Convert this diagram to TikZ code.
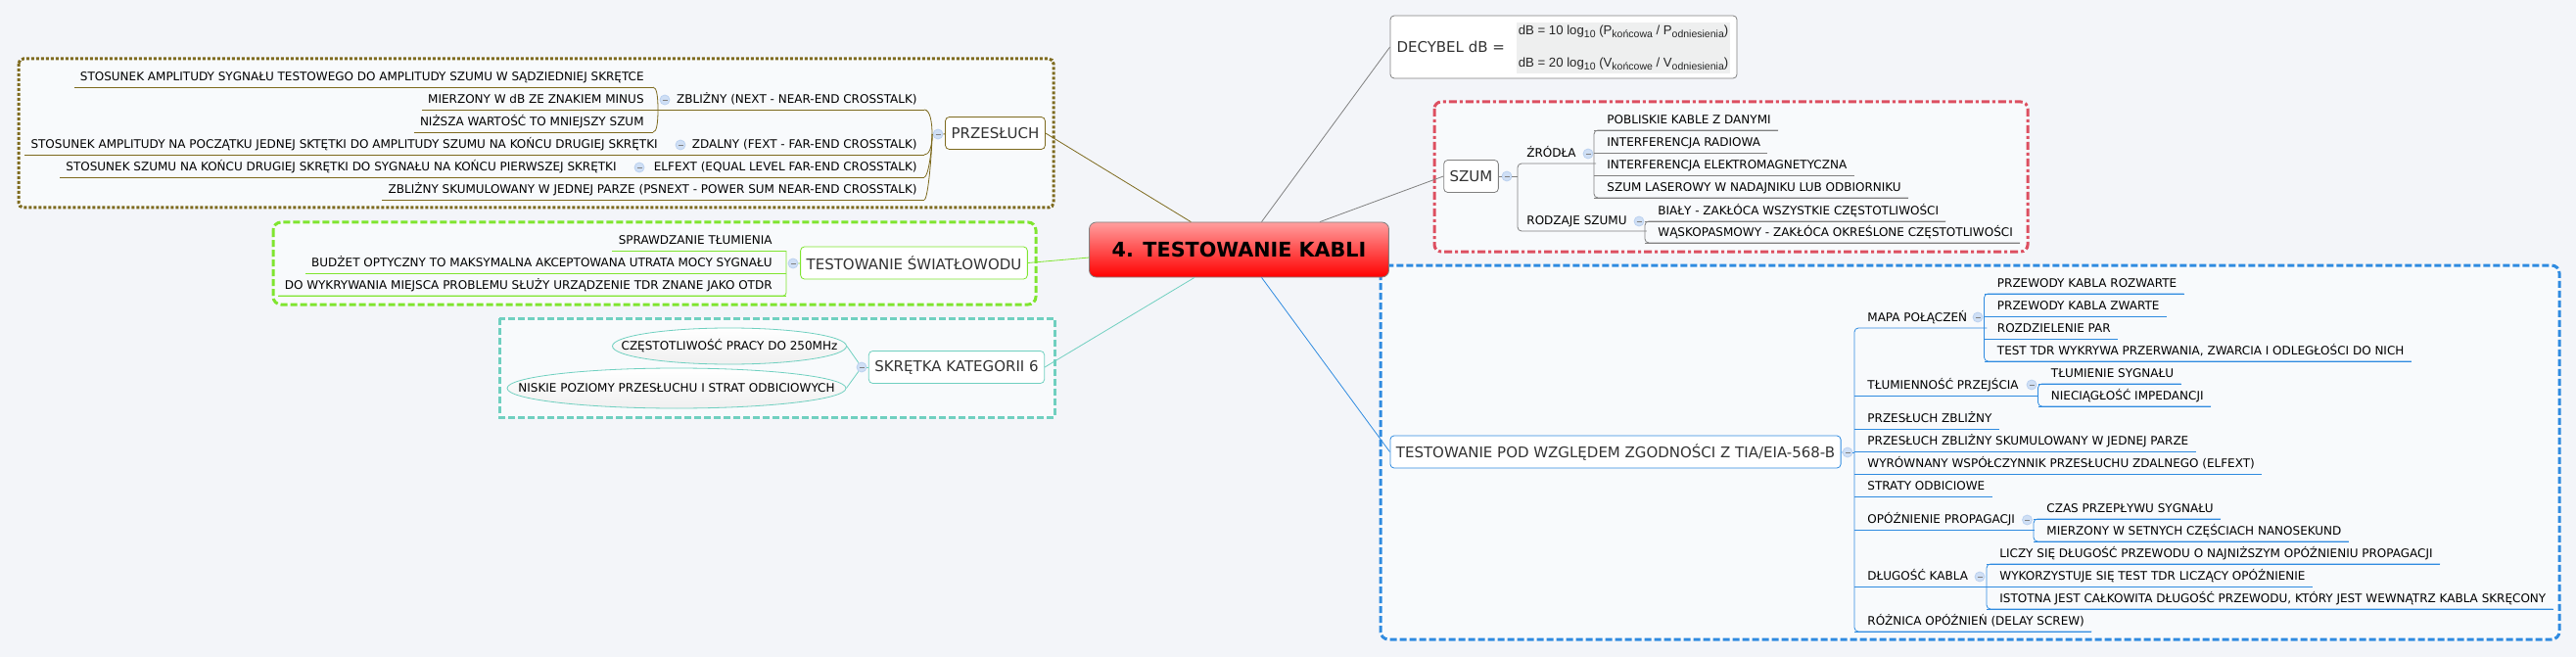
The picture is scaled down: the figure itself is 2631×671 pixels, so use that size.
\documentclass[tikz,border=0pt]{standalone}
\usepackage{fontspec}
\setmainfont{DejaVu Sans}
\newfontfamily\tabfont{Liberation Sans}
\usetikzlibrary{positioning,shapes.geometric}
\definecolor{pagebg}{HTML}{F3F5F9}
\definecolor{framebg}{HTML}{F8FAFC}
\definecolor{brownln}{HTML}{7D6A1E}
\definecolor{greenln}{HTML}{7FE52F}
\definecolor{cyanln}{HTML}{70D0C0}
\definecolor{redln}{HTML}{DD4F60}
\definecolor{blueln}{HTML}{2F8BE0}
\definecolor{grayln}{HTML}{808080}
\definecolor{tabgray}{HTML}{EEEFEF}
\definecolor{expandfill}{HTML}{CFDFF5}
\definecolor{expandln}{HTML}{BCD2F0}
\newcommand{\lowtxt}[1]{\raisebox{-3.5pt}{\fontsize{10.5}{12}\selectfont #1}}

\begin{document}
\begin{tikzpicture}[
    x=1pt,y=-1pt,
    line width=.8pt,
    framebox/.style={fill=framebg,line width=3pt},
    topic/.style={
        draw,
        rounded corners=4pt,
        fill=white,
        minimum height=33pt,
        inner xsep=6pt,
        text=black!80,
        font=\fontsize{15}{18}\selectfont},
    leafbase/.style={
        inner xsep=0pt,inner ysep=3pt,
        text height=9pt,text depth=3pt,
        font=\fontsize{12}{14}\selectfont},
    leafr/.style={
        leafbase,
        anchor=south west,
        execute at begin node=\hspace*{13pt},
        execute at end node=\hspace*{#1}},
    leafr/.default=7pt,
    leafs/.style={
        leafbase,
        anchor=south west,
        execute at begin node=\hspace*{9pt},
        execute at end node=\hspace*{20pt}},
    leafl/.style={
        leafbase,
        anchor=south east,
        execute at begin node=\hspace*{6pt},
        execute at end node=\hspace*{#1}},
    leafl/.default=9pt,
    expander/.style={
        circle,
        draw=expandln,
        fill=expandfill,
        minimum size=10pt,
        inner sep=0pt,
        path picture={\draw[grayln,line width=.6pt] ([xshift=2.5pt]path picture bounding box.west) -- ([xshift=-2.5pt]path picture bounding box.east);}},
    ellipsenode/.style={
        ellipse,
        draw=cyanln,
        top color=white,
        bottom color=black!6,
        inner sep=0pt,
        font=\fontsize{12}{14}\selectfont}
]

\fill[pagebg] (0,0) rectangle (2631,671);
\useasboundingbox (0,0) rectangle (2631,671);

% frames
\draw[framebox,draw=brownln,rounded corners=5pt,dash pattern=on 3pt off 2pt] (19,60) rectangle (1076,212);
\draw[framebox,draw=greenln,rounded corners=8pt,dash pattern=on 7pt off 3pt] (279,227) rectangle (1058,311);
\draw[framebox,draw=cyanln,dash pattern=on 7pt off 3pt] (510,325) rectangle (1077,426);
\draw[framebox,draw=redln,rounded corners=7pt,dash pattern=on 8pt off 3pt on 3pt off 3pt] (1465,104) rectangle (2071,257);
\draw[framebox,draw=blueln,rounded corners=8pt,dash pattern=on 7pt off 3pt] (1410,271) rectangle (2614,653);

% root and main topics
\node[draw=grayln,rounded corners=7pt,top color=red!38,bottom color=red,minimum width=306pt,minimum height=56pt,font=\fontsize{20.7}{24}\selectfont\bfseries] (root) at (1265.5,255) {4. TESTOWANIE KABLI};
\node[topic,draw=brownln] (przesluch) at (1016.5,136) {PRZESŁUCH};
\node[topic,draw=greenln] (swiatlowod) at (933.5,268.5) {TESTOWANIE ŚWIATŁOWODU};
\node[topic,draw=cyanln] (skretka) at (977,375) {SKRĘTKA KATEGORII 6};
\node[topic,draw=grayln] (szum) at (1502.5,180) {SZUM};
\node[topic,draw=blueln] (tia) at (1650,461.5) {TESTOWANIE POD WZGLĘDEM ZGODNOŚCI Z TIA/EIA-568-B};
\node[topic,draw=grayln,minimum width=354pt,minimum height=64pt] (decybel) at (1597,48) {};
\node[right=6.5pt of decybel.west,inner sep=0pt,text=black!80,font=\fontsize{15}{18}\selectfont] (decyblabel) {DECYBEL dB =};
\node[fill=tabgray,inner xsep=2pt,inner ysep=0pt,minimum height=52pt,align=left,font=\tabfont\fontsize{13.2}{33}\selectfont,text=black!85] (decybtab) at (1658,49)
    {dB = 10 log\lowtxt{10} (P\lowtxt{końcowa} / P\lowtxt{odniesienia})\\dB = 20 log\lowtxt{10} (V\lowtxt{końcowe} / V\lowtxt{odniesienia})};

\draw[brownln] (przesluch.east) -- (root.150);
\draw[greenln] (swiatlowod.east) -- (root.183);
\draw[cyanln] (skretka.east) -- (root.212);
\draw[grayln] (decybel.west) -- (root.51);
\draw[grayln] (szum.west) -- (root.19);
\draw[blueln] (tia.west) -- (root.-51);

% PRZESLUCH
\foreach \nm/\xx/\yy/\txt in {
    sygnal/667/89/STOSUNEK AMPLITUDY SYGNAŁU TESTOWEGO DO AMPLITUDY SZUMU W SĄDZIEDNIEJ SKRĘTCE,
    minus/667/112/MIERZONY W dB ZE ZNAKIEM MINUS,
    nizsza/667/135/NIŻSZA WARTOŚĆ TO MNIEJSZY SZUM}
{
  \node[leafl] (\nm) at (\xx,\yy) {\txt};
  \draw[brownln] (\nm.south west) -- (\nm.south east);
}
\node[leafl=12pt] (poczatek) at (684,158) {STOSUNEK AMPLITUDY NA POCZĄTKU JEDNEJ SKTĘTKI DO AMPLITUDY SZUMU NA KOŃCU DRUGIEJ SKRĘTKI};
\node[leafl=12pt] (koniec) at (642,181) {STOSUNEK SZUMU NA KOŃCU DRUGIEJ SKRĘTKI DO SYGNAŁU NA KOŃCU PIERWSZEJ SKRĘTKI};
\foreach \nm/\xx/\yy/\txt in {
    nextl/944/112/ZBLIŻNY (NEXT - NEAR-END CROSSTALK),
    fextl/944/158/ZDALNY (FEXT - FAR-END CROSSTALK),
    elfextl/944/181/ELFEXT (EQUAL LEVEL FAR-END CROSSTALK),
    psnext/944/204/ZBLIŻNY SKUMULOWANY W JEDNEJ PARZE (PSNEXT - POWER SUM NEAR-END CROSSTALK)}
{
  \node[leafl=7pt] (\nm) at (\xx,\yy) {\txt};
}
\draw[brownln] (poczatek.south west) -- (fextl.south east);
\draw[brownln] (koniec.south west) -- (elfextl.south east);
\draw[brownln] (minus.south east) -- (nextl.south east);
\draw[brownln] (psnext.south west) -- (psnext.south east);
\node[expander] (exprz) at (958,137) {};
\node[expander] (exnext) at (679,102) {};
\node[expander] (exfext) at (695,148) {};
\node[expander] (exelf) at (653,171) {};
\coordinate (przjoin) at (952,137);
\coordinate (nextjoin) at (672,112);
\draw[brownln] (przesluch) -- (exprz);
\draw[brownln] (exprz) -- (przjoin);
\draw[brownln] (nextl.south east) .. controls +(6,0) and +(0,-12) .. (przjoin);
\foreach \nm in {fextl,elfextl,psnext}
  \draw[brownln] (przjoin) .. controls +(0,16) and +(4,0) .. (\nm.south east);
\draw[brownln] (sygnal.south east) .. controls +(4,0) and +(0,-12) .. (nextjoin);
\draw[brownln] (nextjoin) .. controls +(0,12) and +(4,0) .. (nizsza.south east);

% SWIATLOWOD
\foreach \nm/\yy/\txt in {
    tlum/256/SPRAWDZANIE TŁUMIENIA,
    budzet/279/BUDŻET OPTYCZNY TO MAKSYMALNA AKCEPTOWANA UTRATA MOCY SYGNAŁU,
    otdr/302/DO WYKRYWANIA MIEJSCA PROBLEMU SŁUŻY URZĄDZENIE TDR ZNANE JAKO OTDR}
{
  \node[leafl=14pt] (\nm) at (803,\yy) {\txt};
  \draw[greenln] (\nm.south west) -- (\nm.south east);
}
\node[expander] (exsw) at (810,269) {};
\draw[greenln] (swiatlowod) -- (exsw);
\draw[greenln,rounded corners=3pt] (tlum.south east) -- (otdr.south east) -- (otdr.south west);

% SKRETKA
\node[ellipsenode,minimum width=239pt,minimum height=37pt] (freq) at (745,353.5) {\makebox[0pt]{CZĘSTOTLIWOŚĆ PRACY DO 250MHz}};
\node[ellipsenode,minimum width=346pt,minimum height=41pt] (straty) at (691,396.5) {\makebox[0pt]{NISKIE POZIOMY PRZESŁUCHU I STRAT ODBICIOWYCH}};
\node[expander] (exsk) at (880,375) {};
\draw[cyanln] (skretka) -- (exsk);
\draw[cyanln] (exsk) -- (freq.east);
\draw[cyanln] (exsk) -- (straty.east);

% SZUM
\node[leafs] (zrodla) at (1550,167) {ŹRÓDŁA};
\node[leafs] (rodzaje) at (1550,236) {RODZAJE SZUMU};
\foreach \nm/\xx/\yy/\txt in {
    pobliskie/1628/133/POBLISKIE KABLE Z DANYMI,
    radiowa/1628/156/INTERFERENCJA RADIOWA,
    elektro/1628/179/INTERFERENCJA ELEKTROMAGNETYCZNA,
    laser/1628/202/SZUM LASEROWY W NADAJNIKU LUB ODBIORNIKU,
    bialy/1680/226/BIAŁY - ZAKŁÓCA WSZYSTKIE CZĘSTOTLIWOŚCI,
    waski/1680/248/WĄSKOPASMOWY - ZAKŁÓCA OKREŚLONE CZĘSTOTLIWOŚCI}
{
  \node[leafr] (\nm) at (\xx,\yy) {\txt};
  \draw[grayln] (\nm.south west) -- (\nm.south east);
}
\foreach \nm/\xx/\yy in {exszum/1539/180,exzr/1622/157,exrodz/1674/226}
  \node[expander] (\nm) at (\xx,\yy) {};
\draw[grayln] (szum) -- (exszum);
\draw[grayln] (exszum) -- (exszum -| zrodla.south west);
\draw[grayln,rounded corners=4pt] (zrodla.south east) -- (zrodla.south west) -- (rodzaje.south west) -- (rodzaje.south east);
\draw[grayln,rounded corners=4pt] (pobliskie.south east) -- (pobliskie.south west) -- (laser.south west) -- (laser.south east);
\draw[grayln,rounded corners=4pt] (bialy.south east) -- (bialy.south west) -- (waski.south west) -- (waski.south east);

% TIA
\node[leafr=20pt] (mapa) at (1894,335) {MAPA POŁĄCZEŃ};
\node[leafr=20pt] (przejscia) at (1894,404) {TŁUMIENNOŚĆ PRZEJŚCIA};
\node[leafr=20pt] (propag) at (1894,541) {OPÓŹNIENIE PROPAGACJI};
\node[leafr=20pt] (dlugosc) at (1894,599) {DŁUGOŚĆ KABLA};
\foreach \nm/\xx/\yy/\txt in {
    rozwarte/2026.5/300/PRZEWODY KABLA ROZWARTE,
    zwarte/2026.5/323/PRZEWODY KABLA ZWARTE,
    pary/2026.5/346/ROZDZIELENIE PAR,
    tdr/2026.5/369/{TEST TDR WYKRYWA PRZERWANIA, ZWARCIA I ODLEGŁOŚCI DO NICH},
    sygnalt/2081.5/392/TŁUMIENIE SYGNAŁU,
    impedancja/2081.5/415/NIECIĄGŁOŚĆ IMPEDANCJI,
    zbl/1894/438/PRZESŁUCH ZBLIŻNY,
    skum/1894/461/PRZESŁUCH ZBLIŻNY SKUMULOWANY W JEDNEJ PARZE,
    wyrown/1894/484/WYRÓWNANY WSPÓŁCZYNNIK PRZESŁUCHU ZDALNEGO (ELFEXT),
    odbic/1894/507/STRATY ODBICIOWE,
    czas/2077/530/CZAS PRZEPŁYWU SYGNAŁU,
    setne/2077/553/MIERZONY W SETNYCH CZĘŚCIACH NANOSEKUND,
    liczy/2029/576/LICZY SIĘ DŁUGOŚĆ PRZEWODU O NAJNIŻSZYM OPÓŹNIENIU PROPAGACJI,
    wykorz/2029/599/WYKORZYSTUJE SIĘ TEST TDR LICZĄCY OPÓŹNIENIE,
    istotna/2029/622/{ISTOTNA JEST CAŁKOWITA DŁUGOŚĆ PRZEWODU, KTÓRY JEST WEWNĄTRZ KABLA SKRĘCONY},
    delay/1894/645/RÓŻNICA OPÓŹNIEŃ (DELAY SCREW)}
{
  \node[leafr] (\nm) at (\xx,\yy) {\txt};
  \draw[blueln] (\nm.south west) -- (\nm.south east);
}
\foreach \nm/\xx/\yy in {extia/1887/462,exmapa/2020/324,exprzej/2075/393,expropag/2070.5/531,exdl/2022/589}
  \node[expander] (\nm) at (\xx,\yy) {};
\draw[blueln] (tia) -- (extia);
\draw[blueln] (extia) -- (extia -| mapa.south west);
\draw[blueln,rounded corners=4pt] (mapa.south east) -- (mapa.south west) -- (delay.south west) -- (delay.south east);
\foreach \nm in {przejscia,propag,dlugosc}
  \draw[blueln] (\nm.south west) -- (\nm.south east);
\draw[blueln,rounded corners=4pt] (rozwarte.south east) -- (rozwarte.south west) -- (tdr.south west) -- (tdr.south east);
\draw[blueln,rounded corners=4pt] (sygnalt.south east) -- (sygnalt.south west) -- (impedancja.south west) -- (impedancja.south east);
\draw[blueln,rounded corners=4pt] (czas.south east) -- (czas.south west) -- (setne.south west) -- (setne.south east);
\draw[blueln,rounded corners=4pt] (liczy.south east) -- (liczy.south west) -- (istotna.south west) -- (istotna.south east);

\end{tikzpicture}
\end{document}
